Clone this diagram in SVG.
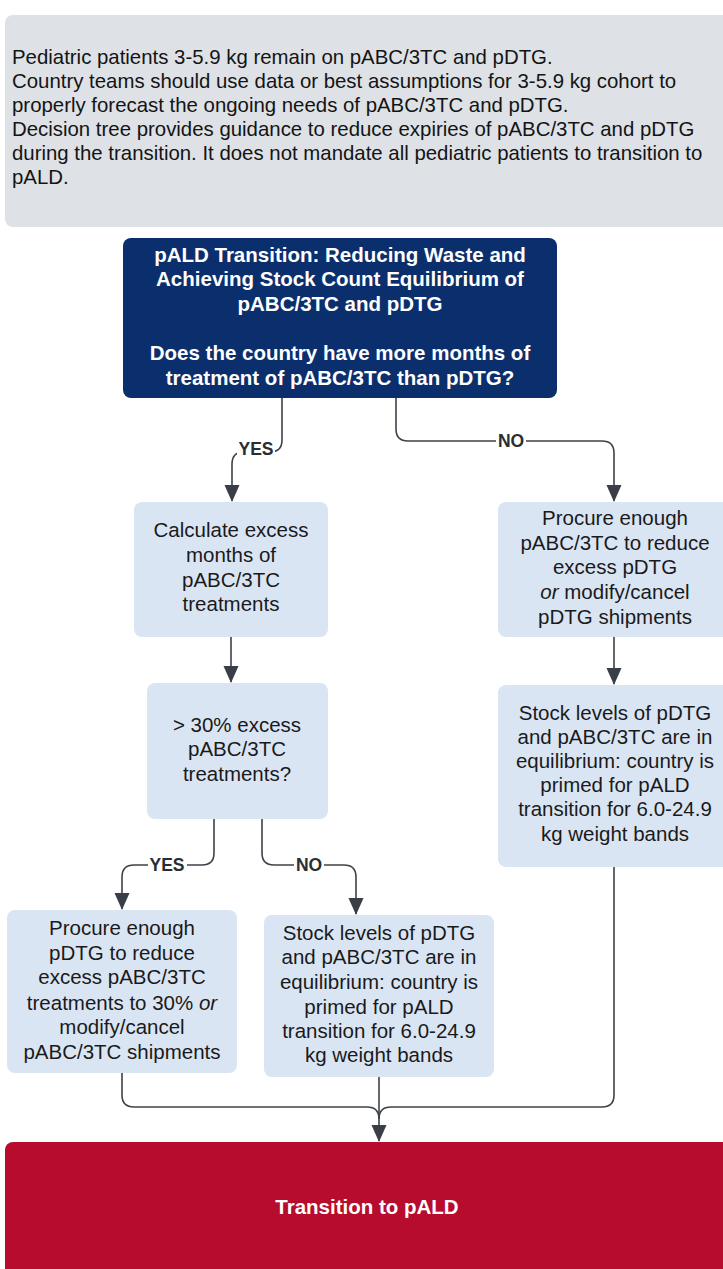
<svg xmlns="http://www.w3.org/2000/svg" width="723" height="1269" viewBox="0 0 723 1269">
<style>
.note{font-family:"Liberation Sans",Arial,sans-serif;font-size:20.4px;fill:#141414}
.node{fill:#dae5f4}
.nt{font-family:"Liberation Sans",Arial,sans-serif;font-size:20.5px;fill:#1a1a1a;text-anchor:middle}
.ht{font-family:"Liberation Sans",Arial,sans-serif;font-size:20.5px;font-weight:bold;fill:#ffffff;text-anchor:middle}
.conn{fill:none;stroke:#3e434a;stroke-width:1.6}
.lbl{font-family:"Liberation Sans",Arial,sans-serif;font-size:17.5px;font-weight:bold;fill:#2a2d33;text-anchor:middle}
.lblbg{fill:#ffffff}
</style>
<defs>
<marker id="arr" markerUnits="userSpaceOnUse" markerWidth="18" markerHeight="18" refX="16" refY="7.5" orient="auto">
<path d="M0,0 L17,7.5 L0,15 Z" fill="#3a3f47"/>
</marker>
</defs>
<rect width="723" height="1269" fill="#ffffff"/>

<g id="note">
<rect x="5" y="15" width="740" height="212" rx="8" fill="#dee2e6"/>
<text class="note" x="12" y="64">Pediatric patients 3-5.9 kg remain on pABC/3TC and pDTG.</text>
<text class="note" x="12" y="88">Country teams should use data or best assumptions for 3-5.9 kg cohort to</text>
<text class="note" x="12" y="112">properly forecast the ongoing needs of pABC/3TC and pDTG.</text>
<text class="note" x="12" y="136">Decision tree provides guidance to reduce expiries of pABC/3TC and pDTG</text>
<text class="note" x="12" y="160">during the transition. It does not mandate all pediatric patients to transition to</text>
<text class="note" x="12" y="184">pALD.</text>
</g>

<g id="start">
<rect x="123" y="238" width="434" height="160" rx="8" fill="#0b2f6c"/>
<text class="ht" x="340" y="262">pALD Transition: Reducing Waste and</text>
<text class="ht" x="340" y="286">Achieving Stock Count Equilibrium of</text>
<text class="ht" x="340" y="311">pABC/3TC and pDTG</text>
<text class="ht" x="340" y="360">Does the country have more months of</text>
<text class="ht" x="340" y="385">treatment of pABC/3TC than pDTG?</text>
</g>

<g id="calc">
<rect class="node" x="134" y="502" width="194" height="135" rx="8"/>
<text class="nt" x="231" y="537">Calculate excess</text>
<text class="nt" x="231" y="562">months of</text>
<text class="nt" x="231" y="587">pABC/3TC</text>
<text class="nt" x="231" y="611">treatments</text>
</g>

<g id="excess">
<rect class="node" x="147" y="683" width="181" height="136" rx="8"/>
<text class="nt" x="237" y="732">&gt; 30% excess</text>
<text class="nt" x="237" y="756">pABC/3TC</text>
<text class="nt" x="237" y="781">treatments?</text>
</g>

<g id="procureAbc">
<rect class="node" x="498" y="502" width="240" height="135" rx="8"/>
<text class="nt" x="615" y="525">Procure enough</text>
<text class="nt" x="615" y="550">pABC/3TC to reduce</text>
<text class="nt" x="615" y="574">excess pDTG</text>
<text class="nt" x="615" y="599"><tspan font-style="italic">or</tspan> modify/cancel</text>
<text class="nt" x="615" y="624">pDTG shipments</text>
</g>

<g id="equilRight">
<rect class="node" x="498" y="685" width="240" height="182" rx="8"/>
<text class="nt" x="615" y="720">Stock levels of pDTG</text>
<text class="nt" x="615" y="744">and pABC/3TC are in</text>
<text class="nt" x="615" y="768">equilibrium: country is</text>
<text class="nt" x="615" y="792">primed for pALD</text>
<text class="nt" x="615" y="816">transition for 6.0-24.9</text>
<text class="nt" x="615" y="841">kg weight bands</text>
</g>

<g id="procureDtg">
<rect class="node" x="7" y="910" width="230" height="163" rx="8"/>
<text class="nt" x="122" y="935">Procure enough</text>
<text class="nt" x="122" y="960">pDTG to reduce</text>
<text class="nt" x="122" y="984">excess pABC/3TC</text>
<text class="nt" x="122" y="1010">treatments to 30% <tspan font-style="italic">or</tspan></text>
<text class="nt" x="122" y="1034">modify/cancel</text>
<text class="nt" x="122" y="1059">pABC/3TC shipments</text>
</g>

<g id="equilMid">
<rect class="node" x="264" y="915" width="230" height="162" rx="8"/>
<text class="nt" x="379" y="940">Stock levels of pDTG</text>
<text class="nt" x="379" y="964">and pABC/3TC are in</text>
<text class="nt" x="379" y="989">equilibrium: country is</text>
<text class="nt" x="379" y="1014">primed for pALD</text>
<text class="nt" x="379" y="1038">transition for 6.0-24.9</text>
<text class="nt" x="379" y="1062">kg weight bands</text>
</g>

<g id="final">
<rect x="5" y="1142" width="740" height="150" rx="8" fill="#b80c2e"/>
<text class="ht" x="367" y="1214">Transition to pALD</text>
</g>

<g id="connectors">
<path class="conn" d="M282 398 V440 Q282 452 270 452 H244 Q232 452 232 464 V501" marker-end="url(#arr)"/>
<path class="conn" d="M396 398 V429 Q396 441 408 441 H602 Q614 441 614 453 V501" marker-end="url(#arr)"/>
<path class="conn" d="M231 637 V682" marker-end="url(#arr)"/>
<path class="conn" d="M614 637 V684" marker-end="url(#arr)"/>
<path class="conn" d="M214 819 V853 Q214 865 202 865 H134 Q122 865 122 877 V909" marker-end="url(#arr)"/>
<path class="conn" d="M262 819 V853 Q262 865 274 865 H344 Q356 865 356 877 V914" marker-end="url(#arr)"/>
<path class="conn" d="M122 1073 V1095 Q122 1107 134 1107 H367 Q379 1107 379 1119"/>
<path class="conn" d="M614 867 V1095 Q614 1107 602 1107 H391 Q379 1107 379 1119"/>
<path class="conn" d="M379 1077 V1141" marker-end="url(#arr)"/>
<rect class="lblbg" x="237" y="440" width="38" height="18"/>
<text class="lbl" x="256" y="455">YES</text>
<rect class="lblbg" x="496" y="432" width="30" height="18"/>
<text class="lbl" x="511" y="447">NO</text>
<rect class="lblbg" x="148" y="856" width="39" height="18"/>
<text class="lbl" x="167" y="871">YES</text>
<rect class="lblbg" x="294" y="856" width="30" height="18"/>
<text class="lbl" x="309" y="871">NO</text>
</g>
</svg>
